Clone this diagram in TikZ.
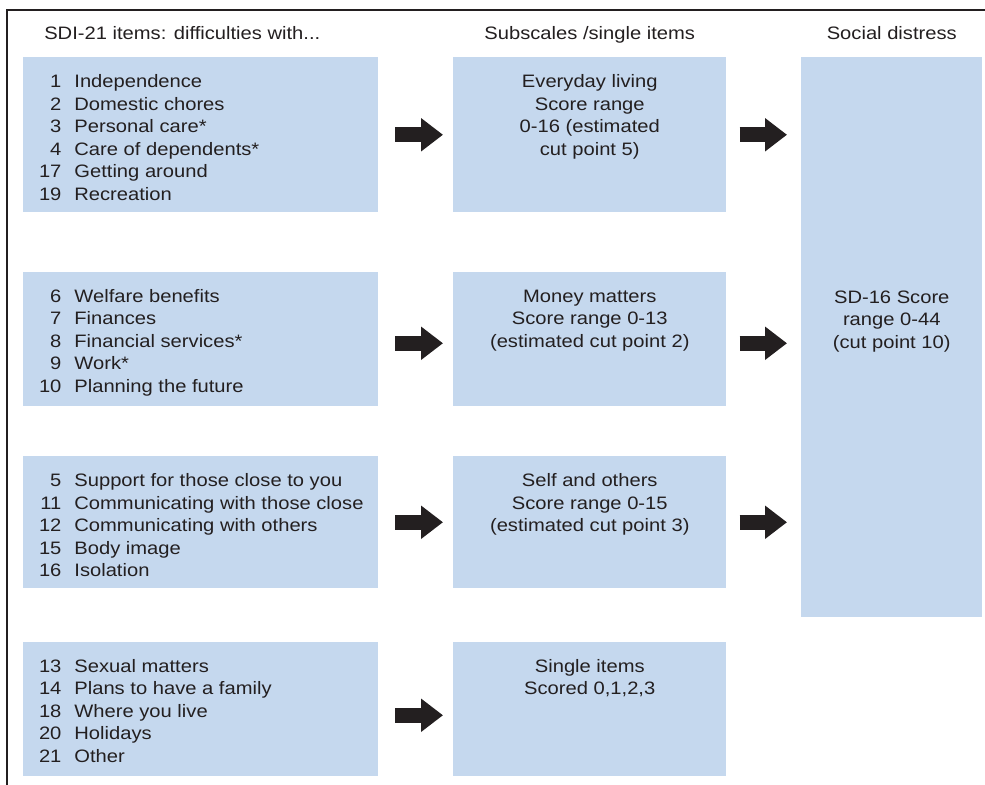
\documentclass[tikz,border=0pt]{standalone}
\usepackage{fontspec}
\setmainfont[FakeStretch=1.12]{Liberation Sans}
\usepackage{tikz}
\usetikzlibrary{arrows.meta}
\definecolor{panelblue}{RGB}{197,216,238}
\definecolor{inkgray}{RGB}{35,31,32}

\begin{document}
\begin{tikzpicture}[x=0.75pt,y=-0.75pt]
    \tikzstyle{every node}=[text=inkgray, font=\fontsize{13.5}{16.875}\selectfont, inner sep=0pt]
    \tikzstyle{panel}=[fill=panelblue, anchor=north west]
    \tikzstyle{itemrow}=[panel, minimum width=266.25pt]
    \tikzstyle{subrow}=[panel, minimum width=204.75pt]
    \tikzstyle{bigarrow}=[draw=inkgray, line width=11.25pt, -{Triangle[length=16.5pt,width=24pt]}]
    \useasboundingbox (0,0) rectangle (985,785);
    \draw[inkgray, line width=0.8pt] (7,785) -- (7,10) -- (985,10);
    % boxes
    \node[itemrow, minimum height=116.25pt] (items1) at (23,57) {};
    \node[subrow, minimum height=116.25pt] (sub1) at (453,57) {};
    \node[panel, minimum width=135.75pt, minimum height=420pt] (sd) at (801,57) {};
    \node[itemrow, minimum height=100.5pt] (items2) at (23,272) {};
    \node[subrow, minimum height=100.5pt] (sub2) at (453,272) {};
    \node[itemrow, minimum height=99pt] (items3) at (23,456) {};
    \node[subrow, minimum height=99pt] (sub3) at (453,456) {};
    \node[itemrow, minimum height=100.5pt] (items4) at (23,642) {};
    \node[subrow, minimum height=100.5pt] (single) at (453,642) {};
    % column heads
    \node[anchor=base west] (head1) at (44,39) {SDI-21 items: difficulties with...};
    \node[anchor=base] (head2) at (sub1.north |- head1.base) {Subscales /single items};
    \node[anchor=base] (head3) at (sd.north |- head1.base) {Social distress};
    % item lists
    \node[anchor=base west] (list1) at ([xshift=11.8pt,yshift=-23pt]items1.north west) {\begin{tabular}[t]{@{}r@{\hspace{9.75pt}}l@{}}
      1 & Independence\\ 2 & Domestic chores\\ 3 & Personal care*\\
      4 & Care of dependents*\\ 17 & Getting around\\ 19 & Recreation
    \end{tabular}};
    \node[anchor=base west] (list2) at ([xshift=11.8pt,yshift=-22.5pt]items2.north west) {\begin{tabular}[t]{@{}r@{\hspace{9.75pt}}l@{}}
      6 & Welfare benefits\\ 7 & Finances\\ 8 & Financial services*\\
      9 & Work*\\ 10 & Planning the future
    \end{tabular}};
    \node[anchor=base west] (list3) at ([xshift=11.8pt,yshift=-23pt]items3.north west) {\begin{tabular}[t]{@{}r@{\hspace{9.75pt}}l@{}}
      5 & Support for those close to you\\ 11 & Communicating with those close\\
      12 & Communicating with others\\ 15 & Body image\\ 16 & Isolation
    \end{tabular}};
    \node[anchor=base west] (list4) at ([xshift=11.8pt,yshift=-22.8pt]items4.north west) {\begin{tabular}[t]{@{}r@{\hspace{9.75pt}}l@{}}
      13 & Sexual matters\\ 14 & Plans to have a family\\ 18 & Where you live\\
      20 & Holidays\\ 21 & Other
    \end{tabular}};
    % subscale texts
    \node[anchor=base] (subtext1) at ([yshift=-23pt]sub1.north) {\begin{tabular}[t]{@{}c@{}}Everyday living\\ Score range\\ 0-16 (estimated\\ cut point 5)\end{tabular}};
    \node[anchor=base] (subtext2) at ([yshift=-22.5pt]sub2.north) {\begin{tabular}[t]{@{}c@{}}Money matters\\ Score range 0-13\\ (estimated cut point 2)\end{tabular}};
    \node[anchor=base] (subtext3) at ([yshift=-23pt]sub3.north) {\begin{tabular}[t]{@{}c@{}}Self and others\\ Score range 0-15\\ (estimated cut point 3)\end{tabular}};
    \node[anchor=base] (singletext) at ([yshift=-22.5pt]single.north) {\begin{tabular}[t]{@{}c@{}}Single items\\ Scored 0,1,2,3\end{tabular}};
    \node[anchor=base] (sdtext) at ([yshift=-184.5pt]sd.north) {\begin{tabular}[t]{@{}c@{}}SD-16 Score\\ range 0-44\\ (cut point 10)\end{tabular}};
    % arrows
    \draw[bigarrow, shorten <=12.4pt, shorten >=7.5pt] (items1) -- (sub1);
    \draw[bigarrow, shorten <=12.4pt, shorten >=7.5pt] ([yshift=-3pt]items2.east) -- ([yshift=-3pt]sub2.west);
    \draw[bigarrow, shorten <=12.4pt, shorten >=7.5pt] (items3) -- (sub3);
    \draw[bigarrow, shorten <=12.4pt, shorten >=7.5pt] ([yshift=-4.5pt]items4.east) -- ([yshift=-4.5pt]single.west);
    \draw[bigarrow, shorten <=9.75pt, shorten >=10.5pt] (sub1.east) -- (sub1.east -| sd.west);
    \draw[bigarrow, shorten <=9.75pt, shorten >=10.5pt] ([yshift=-3pt]sub2.east) -- ([yshift=-3pt]sub2.east -| sd.west);
    \draw[bigarrow, shorten <=9.75pt, shorten >=10.5pt] (sub3.east) -- (sub3.east -| sd.west);
\end{tikzpicture}
\end{document}
